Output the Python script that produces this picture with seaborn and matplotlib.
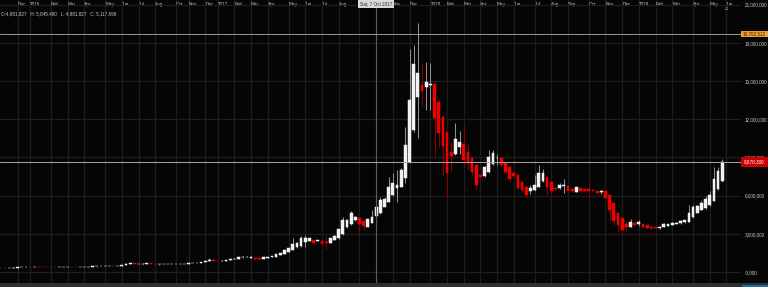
import numpy as np
import pandas as pd
import seaborn as sns
import matplotlib
matplotlib.use("Agg")
import matplotlib.pyplot as plt
from matplotlib.patches import Rectangle
from matplotlib.transforms import blended_transform_factory

# ---------------- data (values in thousands; axis shows x1000) ----------------
opens = [340, 310, 300, 330, 350, 375, 395, 410, 390, 420, 400, 390, 385, 380, 375, 395, 405, 415, 400, 395,
         410, 420, 425, 435, 440, 450, 460, 470, 455, 495, 560, 650, 690, 630, 650, 660, 670, 640, 590, 595,
         600, 605, 615, 625, 640, 660, 680, 700, 740, 790, 860, 960, 900, 880, 900, 950, 1000, 1060, 1150, 1180,
         1100, 1125, 1070, 1050, 1100, 1150, 1200, 1310, 1414, 1570, 1728, 1940, 2040, 2380, 2470, 2514, 2460, 2460, 2380, 2304,
         2514, 2644, 2960, 3510, 3770, 4085, 4220, 4030, 3560, 3870, 4400, 4610, 5132, 5525, 6048, 6572, 6703, 7357, 8667, 11154,
         13773, 14689, 14506, 14700, 14767, 13380, 12200, 11023, 9452, 9269, 9845, 10054, 9452, 8929, 8405, 7619, 7541, 7881, 8483, 8950,
         8929, 8536, 8222, 7750, 7619, 7095, 6703, 6363, 6441, 6703, 7174, 7488, 7095, 6600, 6572, 6780, 6750, 6494, 6310, 6572,
         6520, 6494, 6441, 6389, 6300, 6363, 6048, 5394, 4660, 4215, 3770, 3561, 3822, 3770, 3770, 3665, 3560, 3530, 3430, 3561,
         3640, 3680, 3770, 3822, 3900, 3927, 4294, 4660, 4870, 5001, 5263, 5603, 6494, 7174]
highs = [350, 325, 335, 355, 380, 400, 415, 415, 425, 425, 405, 395, 390, 385, 400, 410, 420, 420, 405, 415,
         425, 430, 440, 445, 455, 465, 475, 475, 505, 580, 700, 720, 700, 665, 670, 680, 680, 645, 605, 610,
         612, 620, 630, 645, 665, 685, 705, 745, 800, 870, 1100, 990, 920, 910, 960, 1010, 1070, 1160, 1220, 1280,
         1230, 1150, 1090, 1160, 1210, 1270, 1400, 1530, 1740, 1870, 2644, 2320, 2830, 2906, 2660, 2530, 2520, 2470, 2820, 2660,
         2870, 3400, 4340, 4200, 4790, 4400, 4300, 4100, 4200, 4870, 5845, 5900, 5900, 7489, 7750, 8012, 8200, 11364, 17491, 17831,
         19533, 16390, 16520, 16390, 14900, 13500, 12300, 11100, 10237, 11678, 11101, 11547, 10000, 9000, 8450, 7700, 8300, 9583, 9600, 9300,
         9000, 8600, 8300, 7800, 7700, 7150, 6800, 6800, 7619, 8405, 8100, 7550, 7150, 6700, 7000, 7280, 6800, 6550, 6700, 6600,
         6550, 6970, 6480, 6420, 6450, 6400, 6100, 5450, 4700, 4300, 4000, 4200, 3900, 4085, 3800, 3700, 3600, 3560, 3600, 3880,
         3800, 3900, 3900, 4050, 4100, 5263, 5263, 5263, 5550, 5970, 6389, 8274, 8274, 8876]
lows = [300, 295, 295, 325, 345, 370, 390, 380, 385, 395, 385, 380, 375, 370, 370, 390, 400, 395, 390, 390,
        405, 415, 420, 430, 435, 445, 455, 445, 450, 490, 540, 630, 610, 620, 640, 650, 635, 580, 580, 590,
        595, 600, 610, 620, 635, 655, 675, 695, 730, 780, 840, 890, 860, 870, 890, 940, 990, 1040, 1120, 1160,
        1080, 980, 950, 1020, 1090, 1140, 1190, 1300, 1400, 1550, 1700, 1900, 2000, 1990, 2420, 2200, 2440, 2100, 1780, 2290,
        2500, 2600, 2900, 3450, 3700, 4000, 2985, 3300, 3500, 3850, 4350, 4550, 5100, 5480, 6000, 5525, 6650, 7000, 8600, 11000,
        10500, 12986, 12725, 12725, 9060, 9845, 7619, 5917, 7959, 9200, 9269, 8274, 8000, 7600, 6441, 7300, 7450, 7800, 8400, 8400,
        8300, 7700, 7100, 7450, 6450, 6300, 5800, 6100, 6350, 6650, 7100, 6100, 6100, 6450, 6500, 6200, 6300, 6300, 6250, 6300,
        6350, 5943, 6350, 6200, 6150, 5750, 4085, 3692, 3168, 3168, 3168, 3500, 3600, 3613, 3450, 3400, 3350, 3400, 3400, 3540,
        3620, 3660, 3750, 3800, 3880, 3900, 4250, 4600, 4850, 4950, 5200, 5550, 6450, 7100]
closes = [310, 300, 330, 350, 375, 395, 410, 390, 420, 400, 390, 385, 380, 375, 395, 405, 415, 400, 395, 410,
          420, 425, 435, 440, 450, 460, 470, 455, 500, 560, 650, 690, 630, 650, 660, 670, 640, 590, 595, 600,
          605, 615, 625, 640, 660, 680, 700, 740, 790, 860, 960, 900, 880, 900, 950, 1000, 1060, 1150, 1200, 1210,
          1170, 1000, 1000, 1150, 1150, 1257, 1388, 1519, 1728, 1859, 2199, 2304, 2696, 2644, 2644, 2304, 2514, 2170, 2250, 2644,
          2850, 3378, 4085, 4085, 4608, 4340, 3770, 3610, 4160, 4340, 5118, 5680, 5708, 6703, 7017, 6834, 8012, 9976, 13511, 16312,
          15605, 14243, 14951, 14767, 12070, 10892, 9897, 7803, 9112, 10421, 10237, 8798, 8536, 7881, 6834, 7436, 8222, 9060, 9321, 8981,
          8405, 7881, 7279, 7541, 6572, 6441, 6048, 6572, 6834, 7803, 7750, 6650, 6389, 6520, 6834, 6830, 6389, 6400, 6650, 6363,
          6400, 6389, 6400, 6232, 6340, 5839, 4870, 4033, 3692, 3299, 3508, 3954, 3665, 3954, 3508, 3456, 3456, 3456, 3560, 3770,
          3770, 3875, 3875, 4006, 4050, 4608, 5132, 5184, 5394, 5708, 6048, 7279, 7960, 8678]

# month markers: label text and index of the first weekly bar of that month
# (Sep/Oct 2017 labels are hidden under the crosshair date box in the reference)
month_labels = ["Dec", "2016", "Feb", "Mar", "Apr", "May", "Jun", "Jul", "Aug", "Oct", "Nov", "Dec",
                "2017", "Feb", "Mar", "Apr", "May", "Jun", "Jul", "Aug", "", "", "Nov", "Dec",
                "2018", "Feb", "Mar", "Apr", "May", "Jun", "Jul", "Aug", "Sep", "Oct", "Nov", "Dec",
                "2019", "Feb", "Mar", "Apr", "May", "Jun"]
month_bars = [4, 7, 12, 16, 20, 25, 29, 33, 37, 42, 45, 49,
              52, 56, 60, 64, 69, 73, 77, 81, 86, 90, 94, 98,
              103, 107, 111, 115, 119, 123, 128, 132, 136, 141, 145, 149,
              153, 157, 161, 166, 170, 174]

price_ticks = [0, 3000, 6000, 9000, 12000, 15000, 18000, 21000]
price_tick_labels = ["-0,000", "3,000,000", "6,000,000", "9,000,000", "12,000,000",
                     "15,000,000", "18,000,000", "21,000,000"]

cursor_bar = 90
cursor_date = "Sat, 7 Oct 2017"
cursor_level = 18700
cursor_label = "19,702,512"
last_label = "8,678,300"
info_text = "O:4,881.827   H: 5,845.480   L: 4,881.827   C: 5,117.699"

# ---------------- style ----------------
BG = "#050505"
GRID = "#1d1d1d"
TXT = "#c8c8c8"
FS = 3.3
sns.set_theme(style="dark", rc={"axes.facecolor": BG, "figure.facecolor": BG,
                                "axes.edgecolor": BG, "grid.color": GRID})
plt.rcParams["font.family"] = ["Liberation Sans", "DejaVu Sans"]

df = pd.DataFrame({"open": opens, "high": highs, "low": lows, "close": closes})
df["bar"] = np.arange(len(df))
df["up"] = df["close"] >= df["open"]

W, H = 768, 287
fig = plt.figure(figsize=(W / 100, H / 100), dpi=100)
ax = fig.add_axes([0, 4 / H, 741 / W, 1 - 4 / H])
ax.set_facecolor(BG)

up = df[df["up"]]
dn = df[~df["up"]]
ax.vlines(up["bar"], up["low"], up["high"], color="#8e8e8e", lw=0.75, zorder=3)
ax.vlines(dn["bar"], dn["low"], dn["high"], color="#8a0000", lw=0.75, zorder=3)
ax.bar(up["bar"], up["close"] - up["open"], bottom=up["open"], width=0.66,
       color="#f2f2f2", edgecolor="#f2f2f2", linewidth=0.35, zorder=4)
ax.bar(dn["bar"], dn["close"] - dn["open"], bottom=dn["open"], width=0.66,
       color="#ee0000", edgecolor="#ee0000", linewidth=0.35, zorder=4)

ax.set_xlim(-0.22, 177.5)
ax.set_ylim(-864, 21366)

# grid
ax.set_axisbelow(True)
ax.grid(True, color=GRID, lw=0.9)

# x ticks (month labels, top, inside the plot)
ax.xaxis.tick_top()
ax.set_xticks(month_bars)
ax.set_xticklabels(month_labels)
ax.tick_params(axis="x", length=0, pad=-4.0, labelsize=FS, labelcolor=TXT)
for lbl in ax.get_xticklabels():
    lbl.set_horizontalalignment("left")
    lbl.set_verticalalignment("baseline")

# y ticks (right side)
ax.yaxis.tick_right()
ax.set_yticks(price_ticks)
ax.set_yticklabels(price_tick_labels)
ax.tick_params(axis="y", length=0, pad=3.0, labelsize=FS, labelcolor=TXT)
for s in ax.spines.values():
    s.set_visible(False)

# crosshair and last price lines
ax.axvline(cursor_bar, color="#5c5c5c", lw=0.8, zorder=5)
ax.axhline(cursor_level, color="#9a9a9a", lw=0.7, zorder=5)
ax.axhline(closes[-1], color="#a8a8a8", lw=0.7, zorder=5)

trans = blended_transform_factory(fig.transFigure, ax.transData)
px = 78.55  # value units per pixel (thousands)
ax.add_patch(Rectangle((741 / W, cursor_level - 3.3 * px), 27 / W, 6.6 * px, transform=trans,
                       facecolor="#f0a030", edgecolor="none", clip_on=False, zorder=10))
ax.text(754.5 / W, cursor_level, cursor_label, transform=trans, ha="center", va="center",
        fontsize=FS, color="#3a2000", zorder=11, clip_on=False)
ax.add_patch(Rectangle((741 / W, closes[-1] - 5 * px), 27 / W, 10 * px, transform=trans,
                       facecolor="#cc0000", edgecolor="none", clip_on=False, zorder=10))
ax.text(754.5 / W, closes[-1], last_label, transform=trans, ha="center", va="center",
        fontsize=FS, color="#ffffff", zorder=11, clip_on=False)

# date box for crosshair
ax.text(cursor_bar, 1 - 3.6 / (H - 4), cursor_date, transform=ax.get_xaxis_transform(),
        ha="center", va="center", fontsize=FS, color="#222222", zorder=12,
        bbox=dict(boxstyle="square,pad=0.35", fc="#d9d9d9", ec="none"))

# OHLC info line
fig.text(1 / W, 1 - 13.3 / H, info_text, ha="left", va="center", fontsize=FS, color=TXT)

# small marker near top right
fig.text(726 / W, 1 - 8 / H, "\u2302", ha="center", va="center", fontsize=4, color="#8a8a8a",
         family=["DejaVu Sans"])

# bottom scroll strip
fig.add_artist(Rectangle((0, 0), 1, 4 / H, transform=fig.transFigure, facecolor="#2b3034",
                         edgecolor="none"))
fig.add_artist(Rectangle((742 / W, 0), 26 / W, 2 / H, transform=fig.transFigure,
                         facecolor="#1d6fa5", edgecolor="none"))

fig.savefig("out.png", dpi=100, facecolor=BG)
